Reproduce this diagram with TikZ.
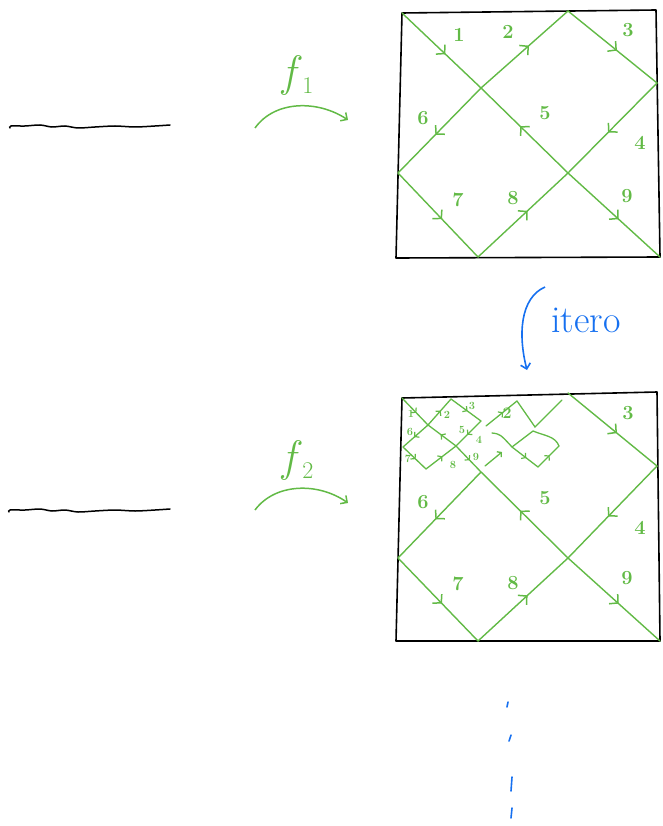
\documentclass[tikz,border=0pt]{standalone}
\usepackage{fontspec}
\usepackage{xcolor}
\usepackage{tikz}
\usetikzlibrary{arrows.meta,decorations.markings}

\definecolor{pengreen}{RGB}{98,186,70}
\definecolor{penblue}{RGB}{22,112,240}
\newcommand{\fsub}[1]{\textit{f}\raisebox{-7pt}{\fontsize{24}{24}\selectfont #1}}

\begin{document}
\begin{tikzpicture}[
    x=1pt, y=-1pt,
    frame/.style={draw=black, line width=1.6pt, line join=round},
    ink/.style={draw=black, line width=1.5pt, line cap=round},
    curve/.style={draw=pengreen, line width=1.4pt, line cap=round},
    midarrow/.style={postaction={decorate}, decoration={markings,
        mark=at position 0.55 with {\arrow{Straight Barb[length=6pt,width=13pt,line width=1.5pt]}}}},
    minarrow/.style={postaction={decorate}, decoration={markings,
        mark=at position 0.55 with {\arrow{Straight Barb[length=3pt,width=7pt,line width=1.2pt]}}}},
    num/.style={text=pengreen, font=\fontsize{20}{22}\selectfont\bfseries, inner sep=0pt},
    minnum/.style={text=pengreen, font=\fontsize{11}{12}\selectfont\bfseries, inner sep=0pt},
    fmap/.style={draw=pengreen, line width=1.5pt, -{Straight Barb[length=5pt,width=10pt]}},
    dotstroke/.style={draw=penblue, line width=1.6pt, line cap=round}
]
    \useasboundingbox (0,0) rectangle (662,826);

    % Left lines
    \draw[ink] plot[smooth] coordinates {(10,128) (11,126) (25,126) (40,125) (52,127) (65,126) (78,128) (95,127) (115,126) (135,127) (155,126) (170,125)};
    \draw[ink] plot[smooth] coordinates {(9,512) (10,510) (25,510) (40,509) (52,511) (65,510) (78,512) (95,511) (115,510) (135,511) (155,510) (170,509)};

    % Maps
    \node[text=pengreen, font=\fontsize{44}{46}\selectfont] (fone) at (298,76) {\fsub{1}};
    \coordinate (fa1) at (255,128);
    \coordinate (fb1) at (348,120);
    \draw[fmap] (fa1) .. controls (275,100) and (318,100) .. (fb1);
    \node[text=pengreen, font=\fontsize{44}{46}\selectfont] (ftwo) at (298,460) {\fsub{2}};
    \coordinate (fa2) at (255,510);
    \coordinate (fb2) at (348,503);
    \draw[fmap] (fa2) .. controls (275,483) and (318,482) .. (fb2);

    % First square
    \coordinate (a0) at (402,13);
    \coordinate (at) at (568,11);
    \coordinate (ar) at (657,83);
    \coordinate (ac1) at (481,88);
    \coordinate (ac2) at (568,173);
    \coordinate (al) at (398,173);
    \coordinate (ab) at (478,257);
    \coordinate (a9) at (660,257);
    \draw[frame] (a0) -- (656,10) -- (a9) -- (396,258) -- cycle;
    \foreach \s/\e in {a0/ac1, ac1/at, at/ar, ar/ac2, ac2/ac1, ac1/al, al/ab, ab/ac2, ac2/a9}
        \draw[curve, midarrow] (\s) -- (\e);
    \node[num] (a1n) at (459,35) {1};
    \node[num] (a2n) at (508,32) {2};
    \node[num] (a3n) at (628,30) {3};
    \node[num] (a4n) at (640,143) {4};
    \node[num] (a5n) at (545,113) {5};
    \node[num] (a6n) at (423,118) {6};
    \node[num] (a7n) at (458,200) {7};
    \node[num] (a8n) at (513,198) {8};
    \node[num] (a9n) at (627,196) {9};

    % Iteration
    \node[text=penblue, font=\fontsize{38}{40}\selectfont, anchor=base west, inner sep=0pt] (itero) at (551,332) {itero};
    \coordinate (ia) at (545,287);
    \coordinate (ib) at (527,370);
    \draw[penblue, line width=1.6pt, -{Straight Barb[length=5pt,width=10pt]}] (ia) .. controls (520,298) and (518,335) .. (ib);

    % Second square
    \coordinate (b0) at (402,398);
    \coordinate (bt) at (568,393);
    \coordinate (br) at (657,466);
    \coordinate (bc1) at (481,472);
    \coordinate (bc2) at (568,558);
    \coordinate (bl) at (398,558);
    \coordinate (bb) at (478,641);
    \coordinate (b9) at (660,641);
    \draw[frame] (b0) -- (657,392) -- (b9) -- (396,641) -- cycle;
    \foreach \s/\e in {bt/br, br/bc2, bc2/bc1, bc1/bl, bl/bb, bb/bc2, bc2/b9}
        \draw[curve, midarrow] (\s) -- (\e);
    \node[num] (b3n) at (628,413) {3};
    \node[num] (b4n) at (640,528) {4};
    \node[num] (b5n) at (545,498) {5};
    \node[num] (b6n) at (423,502) {6};
    \node[num] (b7n) at (458,584) {7};
    \node[num] (b8n) at (513,583) {8};
    \node[num] (b9n) at (627,578) {9};

    % Small copy
    \coordinate (mc1) at (428,425);
    \coordinate (mt) at (451,399);
    \coordinate (mr) at (481,421);
    \coordinate (mc2) at (456,446);
    \coordinate (ml) at (403,447);
    \coordinate (mb) at (426,469);
    \foreach \s/\e in {b0/mc1, mc1/mt, mt/mr, mr/mc2, mc2/mc1, mc1/ml, ml/mb, mb/mc2, mc2/bc1}
        \draw[curve, line width=1.3pt, minarrow] (\s) -- (\e);
    \node[minnum] (m1n) at (411,414) {1};
    \node[minnum] (m2n) at (447,415) {2};
    \node[minnum] (m3n) at (472,406) {3};
    \node[minnum] (m4n) at (479,440) {4};
    \node[minnum] (m5n) at (462,430) {5};
    \node[minnum] (m6n) at (410,432) {6};
    \node[minnum] (m7n) at (408,459) {7};
    \node[minnum] (m8n) at (453,465) {8};
    \node[minnum] (m9n) at (476,457) {9};

    % Unfinished part
    \coordinate (q1) at (486,426);
    \coordinate (q2) at (517,401);
    \coordinate (q3) at (535,427);
    \coordinate (q4) at (562,400);
    \draw[curve, line width=1.3pt, minarrow] (q1) -- (q2);
    \draw[curve, line width=1.3pt] (q2) -- (q3) -- (q4);
    \node[text=pengreen, font=\fontsize{16}{18}\selectfont\bfseries, inner sep=0pt] (q2n) at (507,413) {2};
    \coordinate (q5) at (492,433);
    \coordinate (q6) at (512,447);
    \coordinate (q7) at (538,467);
    \coordinate (q8) at (533,431);
    \coordinate (q9) at (559,446);
    \draw[curve, line width=1.3pt] (q5) .. controls (500,434) .. (q6);
    \draw[curve, line width=1.3pt, minarrow] (q6) -- (q7);
    \draw[curve, line width=1.3pt, minarrow] (q7) -- (q9);
    \draw[curve, line width=1.3pt] (q6) -- (q8) .. controls (545,436) and (555,436) .. (q9);
    \coordinate (q10) at (485,466);
    \coordinate (q11) at (502,452);
    \draw[curve, line width=1.3pt, -{Straight Barb[length=3pt,width=7pt]}] (q10) -- (q11);

    % Dots
    \draw[dotstroke] (508,702) -- (507,707);
    \draw[dotstroke] (511,735) -- (509,741);
    \draw[dotstroke] (512,777) -- (511,791);
    \draw[dotstroke] (512,808) -- (511,818);
\end{tikzpicture}
\end{document}
